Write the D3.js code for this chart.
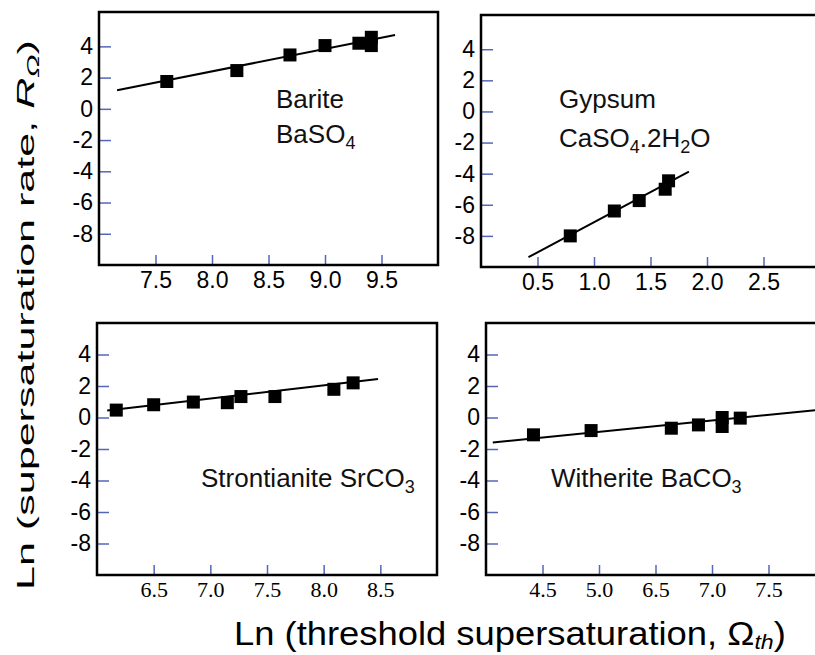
<!DOCTYPE html>
<meta charset="utf-8">
<style>
body { margin: 0; background: #fff; }
svg { display: block; font-family: "Liberation Sans", Arial, sans-serif; }
.tick line { stroke: #5566b8; stroke-width: 1.5; }
</style>
<body>
<div id="chart"></div>
<script src="https://d3js.org/d3.v7.min.js"></script>
<script>

// values
const bariteX = [7.60, 8.22, 8.69, 9.00, 9.30, 9.41, 9.41];
const bariteY = [1.75, 2.45, 3.45, 4.05, 4.20, 4.58, 4.05];
const bariteFitX = [7.16, 9.62];
const bariteFitY = [1.19, 4.73];

const gypsumX = [0.79, 1.18, 1.40, 1.63, 1.66];
const gypsumY = [-8.0, -6.4, -5.73, -5.0, -4.46];
const gypsumFitX = [0.42, 1.84];
const gypsumFitY = [-9.37, -3.87];

const strontX = [6.17, 6.50, 6.85, 7.15, 7.27, 7.57, 8.09, 8.26];
const strontY = [0.47, 0.81, 0.98, 0.94, 1.33, 1.33, 1.79, 2.20];
const strontFitX = [6.09, 8.48];
const strontFitY = [0.45, 2.44];

const witherX = [4.42, 4.93, 6.64, 6.88, 7.09, 7.09, 7.25];
const witherY = [-1.10, -0.83, -0.68, -0.47, 0.0, -0.57, -0.04];
const witherFitX = [4.06, 8.0];
const witherFitY = [-1.59, 0.53];

const yTicks = [4, 2, 0, -2, -4, -6, -8];
const bariteTicks = [7.5, 8.0, 8.5, 9.0, 9.5];
const gypsumTicks = [0.5, 1.0, 1.5, 2.0, 2.5];
const strontTicks = [6.5, 7.0, 7.5, 8.0, 8.5];
const witherTicks = [4.5, 5.0, 6.5, 7.0, 7.5];

const width = 815, height = 655;

const svg = d3.select("#chart").append("svg")
  .attr("width", width)
  .attr("height", height);

const panels = [
  {x: bariteX, y: bariteY, fx: bariteFitX, fy: bariteFitY, ticks: bariteTicks,
   xdom: [7, 10], ydom: [-10, 6.2], left: 99, top: 12, w: 339, h: 253, serif: false,
   label: [["Barite"], ["BaSO", "4"]], lx: 276, ly: [108, 143]},
  {x: gypsumX, y: gypsumY, fx: gypsumFitX, fy: gypsumFitY, ticks: gypsumTicks,
   xdom: [0, 3], ydom: [-10, 6.2], left: 481, top: 15, w: 339, h: 252, serif: false,
   label: [["Gypsum"], ["CaSO", "4", ".2H", "2", "O"]], lx: 559, ly: [108, 147]},
  {x: strontX, y: strontY, fx: strontFitX, fy: strontFitY, ticks: strontTicks,
   xdom: [6, 9], ydom: [-10, 6], left: 97, top: 323, w: 340, h: 252, serif: true,
   label: [["Strontianite SrCO", "3"]], lx: 201, ly: [487]},
  {x: witherX, y: witherY, fx: witherFitX, fy: witherFitY, ticks: witherTicks,
   // axis is broken between 5.0 and 6.5
   xdom: [4, 5, 6.5, 8], xunits: [0, 1, 1.5, 3], ydom: [-10, 6], left: 486, top: 323, w: 339, h: 252, serif: true,
   label: [["Witherite BaCO", "3"]], lx: 551, ly: [487]}
];

panels.forEach(p => {
  const g = svg.append("g").attr("transform", `translate(${p.left},${p.top})`);

  const x = d3.scaleLinear()
    .domain(p.xdom)
    .range(p.xunits ? p.xunits.map(u => u / 3 * p.w) : [0, p.w]);
  const y = d3.scaleLinear().domain(p.ydom).range([p.h, 0]);

  g.append("g")
    .call(d3.axisLeft(y).tickValues(yTicks).tickSize(-12).tickPadding(6).tickFormat(d => String(d)))
    .call(a => a.select(".domain").remove())
    .selectAll("text")
      .attr("font-size", 23)
      .attr("font-family", "Liberation Sans, Arial, sans-serif")
      .attr("fill", "#000");

  g.append("g")
    .attr("transform", `translate(0,${p.h})`)
    .call(d3.axisBottom(x).tickValues(p.ticks).tickSize(-10).tickPadding(p.serif ? 6 : 7).tickFormat(d3.format(".1f")))
    .call(a => a.select(".domain").remove())
    .selectAll("text")
      .attr("font-size", p.serif ? 22 : 23)
      .attr("font-family", p.serif ? "Liberation Serif, Times New Roman, serif" : "Liberation Sans, Arial, sans-serif")
      .attr("fill", "#000");

  g.append("rect")
    .attr("width", p.w)
    .attr("height", p.h)
    .attr("fill", "none")
    .attr("stroke", "#000")
    .attr("stroke-width", 2.5);

  g.append("line")
    .attr("x1", x(p.fx[0])).attr("y1", y(p.fy[0]))
    .attr("x2", x(p.fx[1])).attr("y2", y(p.fy[1]))
    .attr("stroke", "#000")
    .attr("stroke-width", 2);

  g.selectAll("rect.pt")
    .data(p.x.map((v, i) => [v, p.y[i]]))
    .join("rect")
      .attr("class", "pt")
      .attr("x", d => x(d[0]) - 6.5)
      .attr("y", d => y(d[1]) - 6.5)
      .attr("width", 13)
      .attr("height", 13)
      .attr("fill", "#000");

  // mineral name, subscripts every second piece
  p.label.forEach((parts, li) => {
    const t = svg.append("text")
      .attr("x", p.lx)
      .attr("y", p.ly[li])
      .attr("font-size", 26)
      .attr("fill", "#111");
    parts.forEach((s, i) => {
      t.append("tspan")
        .attr("font-size", i % 2 ? 18 : 26)
        .attr("dy", i === 0 ? 0 : (i % 2 ? 6 : -6))
        .text(s);
    });
  });
});

// x title
const xt = svg.append("text")
  .attr("font-size", 33)
  .attr("fill", "#000");
xt.append("tspan").text("Ln (threshold supersaturation, Ω");
xt.append("tspan").attr("font-size", 21).attr("font-style", "italic").attr("dy", 4).text("th");
xt.append("tspan").attr("dy", -4).text(")");
const xl = xt.node().getComputedTextLength();
xt.attr("transform", `translate(234,645) scale(${552 / xl},1)`);

// y title
const yt = svg.append("text")
  .attr("font-size", 24)
  .attr("fill", "#000");
yt.append("tspan").text("Ln (supersaturation rate, ");
yt.append("tspan").attr("font-style", "italic").text("R");
yt.append("tspan").attr("font-size", 17).attr("font-style", "italic").attr("dy", 5).text("Ω");
yt.append("tspan").attr("dy", -5).text(")");
const yl = yt.node().getComputedTextLength();
yt.attr("transform", `translate(34,590) rotate(-90) scale(${550 / yl},1)`);

</script>
</body>
